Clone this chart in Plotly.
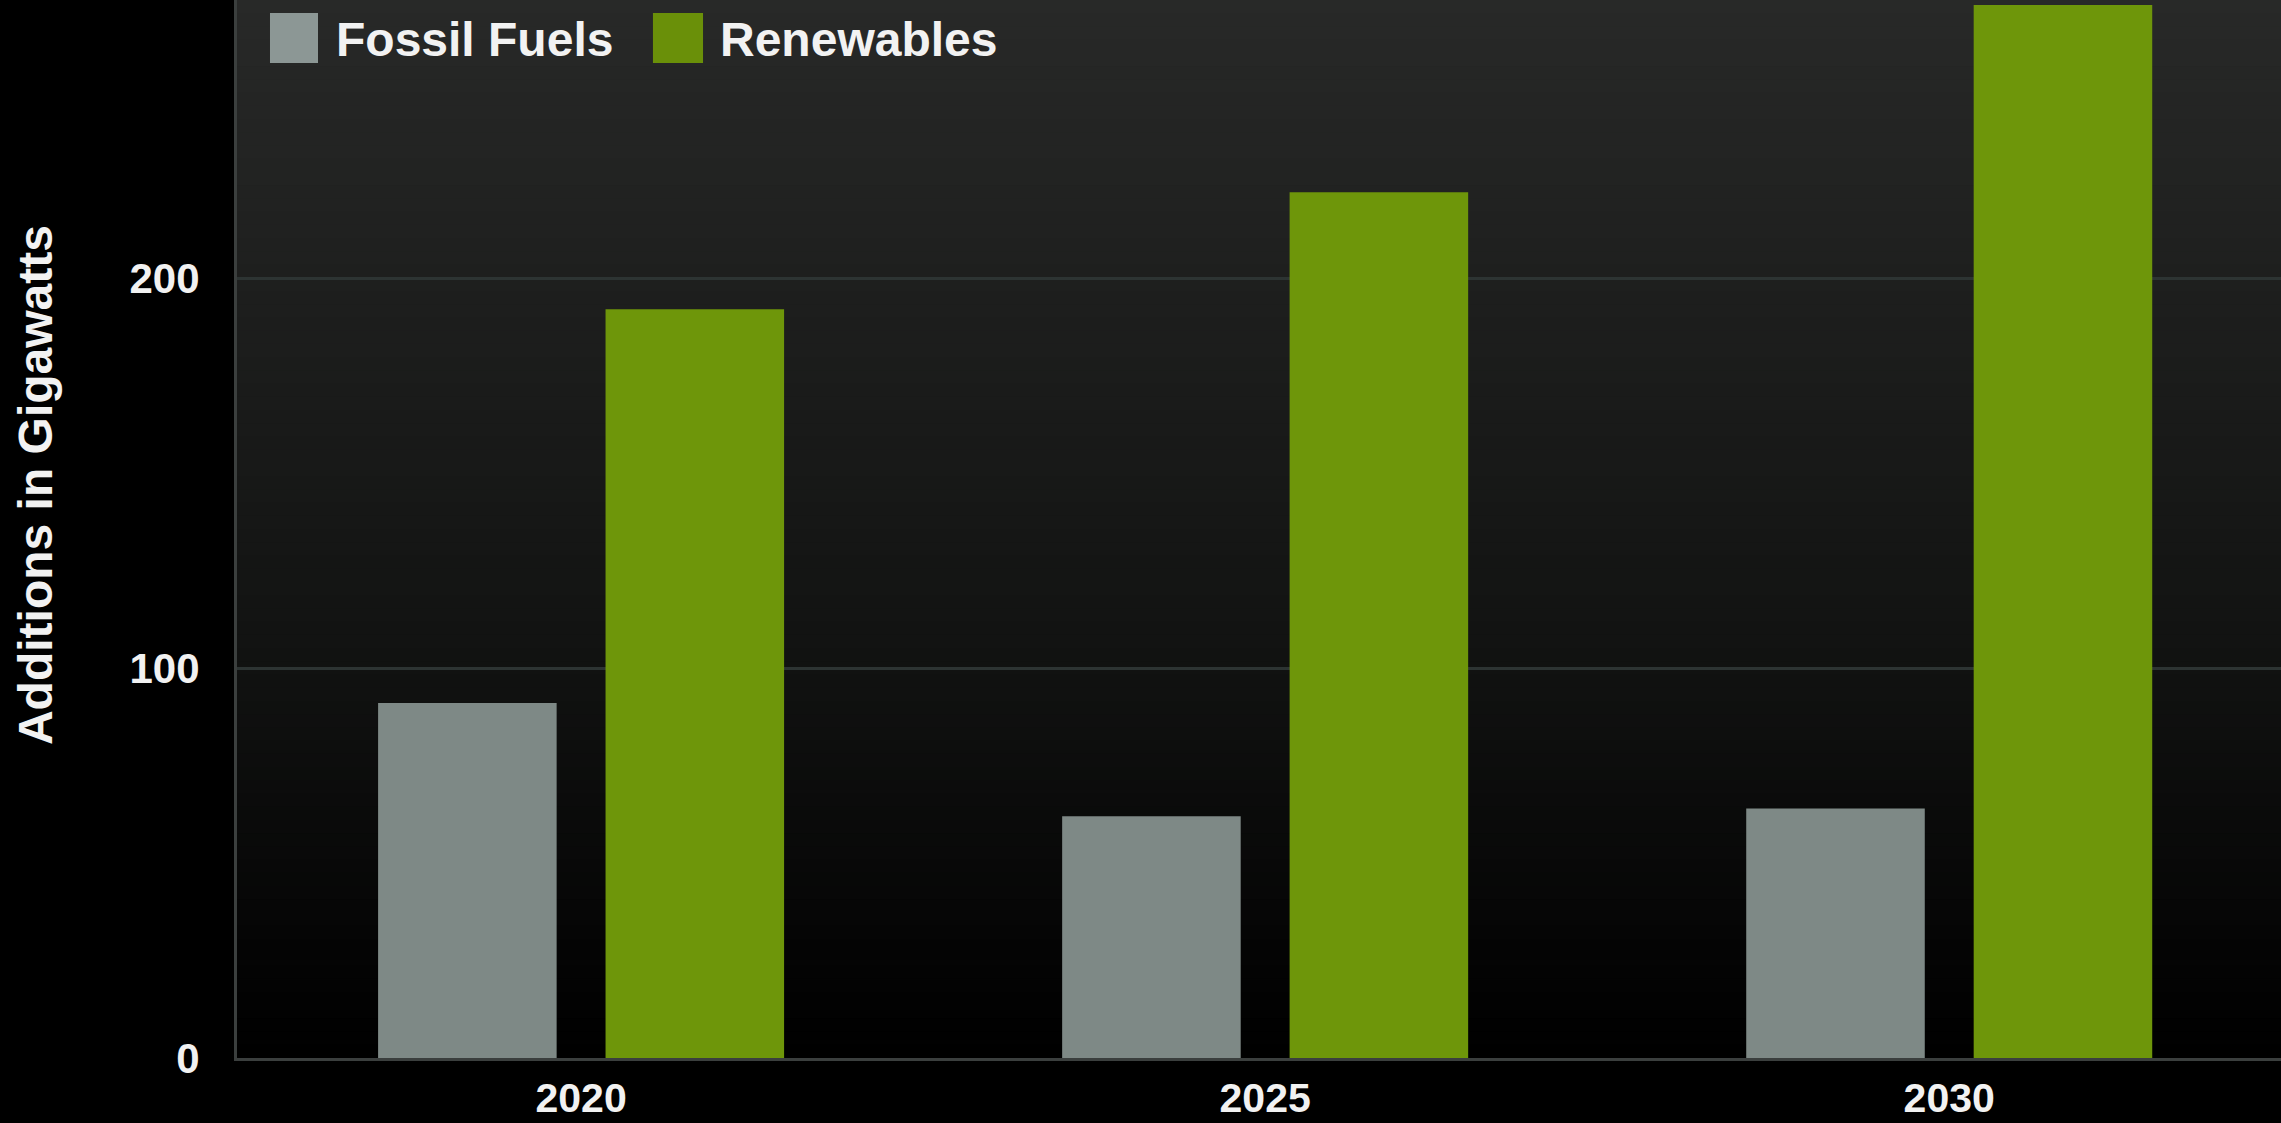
import plotly.graph_objects as go

# ---- data ----
years = ["2020", "2025", "2030"]
fossil_fuels = [91, 62, 64]
renewables = [192, 222, 270]
series_names = ["Fossil Fuels", "Renewables"]
y_ticks = [0, 100, 200]
y_title = "Additions in Gigawatts"

# ---- style ----
FONT = "Liberation Sans, Arial, sans-serif"
FOSSIL_COLOR = "#7e8986"
RENEW_COLOR = "#6e960a"
TEXT_COLOR = "#f2f2f2"

fig = go.Figure()
fig.add_trace(go.Bar(name=series_names[0], x=years, y=fossil_fuels,
                     marker=dict(color=FOSSIL_COLOR, line=dict(width=0)),
                     showlegend=False))
fig.add_trace(go.Bar(name=series_names[1], x=years, y=renewables,
                     marker=dict(color=RENEW_COLOR, line=dict(width=0)),
                     showlegend=False))

# background vertical gradient in plot area (bands)
stops = [(0.0, (0, 0, 0)), (0.10, (4, 4, 4)), (0.37, (17, 18, 17)),
         (0.737, (30, 31, 30)), (1.0, (40, 41, 40))]


def col_at(t):
    for (a, ca), (b, cb) in zip(stops[:-1], stops[1:]):
        if a <= t <= b:
            f = (t - a) / (b - a)
            return tuple(round(ca[i] + (cb[i] - ca[i]) * f) for i in range(3))
    return stops[-1][1]


N = 80
shapes = []
for i in range(N):
    y0 = i / N
    y1 = (i + 1) / N
    c = col_at((y0 + y1) / 2)
    shapes.append(dict(type="rect", xref="x domain", yref="y domain",
                       x0=0, x1=1, y0=y0, y1=y1 + 0.002, layer="below",
                       line=dict(width=0), fillcolor="rgb(%d,%d,%d)" % c))

# manual legend swatches
shapes.append(dict(type="rect", xref="paper", yref="paper",
                   x0=0.01614, x1=0.03963, y0=0.9405, y1=0.9877,
                   line=dict(width=0), fillcolor="#8c9795", layer="above"))
shapes.append(dict(type="rect", xref="paper", yref="paper",
                   x0=0.2035, x1=0.2280, y0=0.9405, y1=0.9877,
                   line=dict(width=0), fillcolor="#6a9009", layer="above"))

annotations = [
    dict(text=series_names[0], xref="paper", yref="paper", x=0.0489, y=0.9631,
         xanchor="left", yanchor="middle", showarrow=False, xshift=-3,
         font=dict(family=FONT, size=48, color=TEXT_COLOR, weight="bold")),
    dict(text=series_names[1], xref="paper", yref="paper", x=0.2368, y=0.9631,
         xanchor="left", yanchor="middle", showarrow=False, xshift=-3,
         font=dict(family=FONT, size=48, color=TEXT_COLOR, weight="bold")),
    dict(text=y_title, xref="paper", yref="paper", x=-0.0983, y=0.5416,
         xanchor="center", yanchor="middle", showarrow=False, textangle=-90,
         font=dict(family=FONT, size=48, color=TEXT_COLOR, weight="bold")),
]

fig.update_layout(
    width=2281, height=1123,
    margin=dict(l=237, r=0, t=0, b=65, pad=0),
    paper_bgcolor="#000000",
    plot_bgcolor="rgba(0,0,0,0)",
    barmode="group",
    bargap=0.335,
    bargroupgap=0.215,
    shapes=shapes,
    annotations=annotations,
    showlegend=False,
    font=dict(family=FONT, color=TEXT_COLOR),
)
fig.update_xaxes(
    type="category", range=[-0.503, 2.485],
    showgrid=False, ticks="", showline=True, linecolor="#3b3f3e", linewidth=3,
    tickfont=dict(family=FONT, size=41, color=TEXT_COLOR, weight="bold"),
    ticklabelstandoff=2, automargin=False,
)
fig.update_yaxes(
    range=[0, 271.3], tickvals=y_ticks, ticktext=[str(v) for v in y_ticks],
    showgrid=True, gridcolor="#2d3433", gridwidth=3,
    zeroline=False, showline=True, linecolor="#3b3f3e", linewidth=3,
    ticks="", ticklabelstandoff=26,
    tickfont=dict(family=FONT, size=42, color=TEXT_COLOR, weight="bold"),
    automargin=False,
)

fig.write_html(
    "out.html",
    config={"displayModeBar": False},
    post_script="document.body.style.margin='0';document.body.style.overflow='hidden';",
)
